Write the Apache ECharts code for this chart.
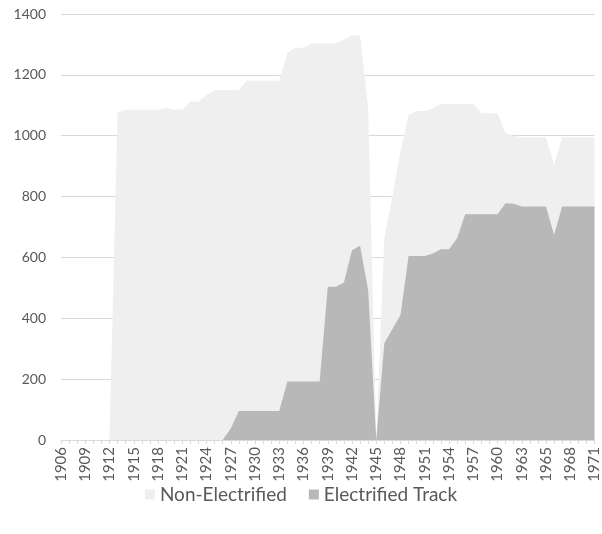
<!DOCTYPE html>
<html>
<head>
<meta charset="utf-8">
<script src="https://cdn.jsdelivr.net/npm/echarts@6/dist/echarts.min.js"></script>
<style>
  html, body { margin: 0; padding: 0; background: #ffffff; }
  #chart { width: 602px; height: 534px; }
</style>
</head>
<body>
<div id="chart"></div>
<script>
// Track length by year (the 1964 entry appears twice in the source series)
const years = [
  1906, 1907, 1908, 1909, 1910, 1911, 1912, 1913, 1914, 1915,
  1916, 1917, 1918, 1919, 1920, 1921, 1922, 1923, 1924, 1925,
  1926, 1927, 1928, 1929, 1930, 1931, 1932, 1933, 1934, 1935,
  1936, 1937, 1938, 1939, 1940, 1941, 1942, 1943, 1944, 1945,
  1946, 1947, 1948, 1949, 1950, 1951, 1952, 1953, 1954, 1955,
  1956, 1957, 1958, 1959, 1960, 1961, 1962, 1963, 1964, 1964,
  1965, 1966, 1967, 1968, 1969, 1970, 1971
].map(String);

// Total track in service (shown as the light "Non-Electrified" area)
const trackTotal = [
  0, 0, 0, 0, 0, 0, 0, 1075, 1085, 1085,
  1085, 1085, 1085, 1092, 1085, 1085, 1112, 1112, 1134, 1150,
  1150, 1150, 1150, 1181, 1181, 1181, 1181, 1181, 1273, 1289,
  1289, 1303, 1303, 1303, 1303, 1315, 1329, 1329, 1095, 0,
  665, 800, 950, 1068, 1081, 1081, 1090, 1104, 1104, 1104,
  1104, 1104, 1074, 1074, 1074, 1008, 1000, 995, 995, 995,
  995, 904, 995, 995, 995, 995, 995
];

// Electrified track
const electrified = [
  0, 0, 0, 0, 0, 0, 0, 0, 0, 0,
  0, 0, 0, 0, 0, 0, 0, 0, 0, 0,
  0, 38, 95, 95, 95, 95, 95, 95, 192, 192,
  192, 192, 192, 504, 504, 518, 624, 638, 493, 0,
  318, 365, 411, 605, 605, 605, 613, 627, 627, 663,
  742, 742, 742, 742, 742, 778, 776, 767, 767, 767,
  767, 674, 767, 767, 767, 767, 767
];

const yTicks = { min: 0, max: 1400, interval: 200 };

const textColor = '#595959';
const gridColor = '#d9d9d9';
const fontFamily = 'Lato, "Open Sans", sans-serif';

const chart = echarts.init(document.getElementById('chart'), null, { renderer: 'canvas' });

chart.setOption({
  animation: false,
  backgroundColor: '#ffffff',
  grid: { left: 61, right: 7, top: 14, bottom: 94, containLabel: false },
  legend: {
    data: ['Non-Electrified', 'Electrified Track'],
    left: 'center',
    top: 480,
    icon: 'rect',
    itemWidth: 10,
    itemHeight: 10,
    itemGap: 22,
    textStyle: { color: textColor, fontSize: 19, fontFamily: fontFamily }
  },
  xAxis: {
    type: 'category',
    data: years,
    boundaryGap: false,
    axisLine: { show: true, lineStyle: { color: gridColor, width: 1 } },
    axisTick: { show: true, interval: 0, length: 4, lineStyle: { color: gridColor } },
    axisLabel: {
      interval: 2,
      rotate: 90,
      margin: 7,
      color: textColor,
      fontSize: 15,
      fontFamily: fontFamily
    },
    splitLine: { show: false }
  },
  yAxis: {
    type: 'value',
    min: yTicks.min,
    max: yTicks.max,
    interval: yTicks.interval,
    axisLine: { show: false },
    axisTick: { show: false },
    axisLabel: {
      margin: 15,
      color: textColor,
      fontSize: 14,
      fontFamily: fontFamily,
      formatter: (v) => String(v)
    },
    splitLine: { show: true, lineStyle: { color: gridColor, width: 1 } }
  },
  series: [
    {
      name: 'Non-Electrified',
      type: 'line',
      data: trackTotal,
      symbol: 'none',
      color: '#efefef',
      lineStyle: { width: 0 },
      areaStyle: { color: '#efefef', opacity: 1 }
    },
    {
      name: 'Electrified Track',
      type: 'line',
      data: electrified,
      symbol: 'none',
      color: '#b8b8b8',
      lineStyle: { width: 0 },
      areaStyle: { color: '#b8b8b8', opacity: 1 }
    }
  ]
});
</script>
</body>
</html>
